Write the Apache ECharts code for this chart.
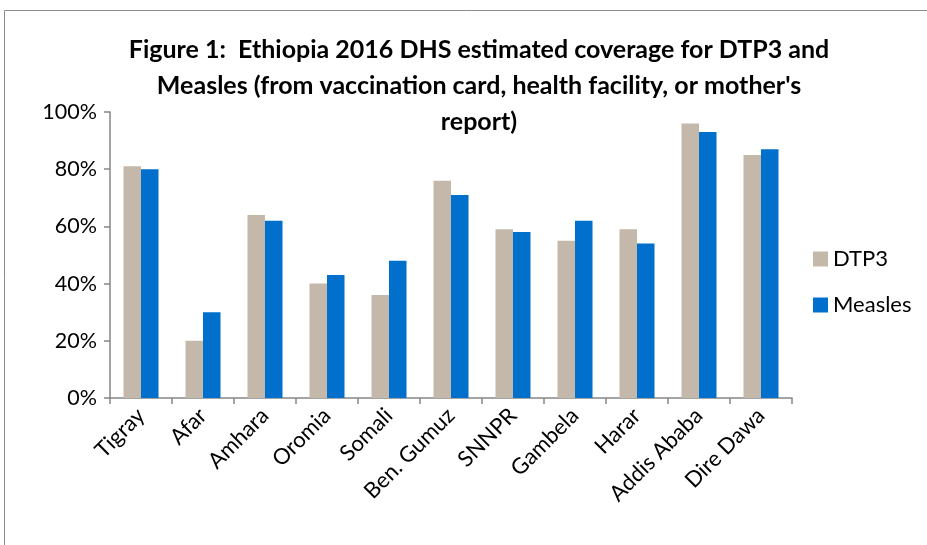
<!DOCTYPE html>
<html>
<head>
<meta charset="utf-8">
<script src="https://cdn.jsdelivr.net/npm/echarts@6/dist/echarts.min.js"></script>
<style>
  html, body { margin: 0; padding: 0; background: #fff; }
  #chart { width: 927px; height: 545px; }
</style>
</head>
<body>
<div id="chart"></div>
<script>
/* data */
var regions = ["Tigray", "Afar", "Amhara", "Oromia", "Somali", "Ben. Gumuz",
  "SNNPR", "Gambela", "Harar", "Addis Ababa", "Dire Dawa"];
var dtp3 = [81, 20, 64, 40, 36, 76, 59, 55, 59, 96, 85];
var measles = [80, 30, 62, 43, 48, 71, 58, 62, 54, 93, 87];
var yTicks = [0, 20, 40, 60, 80, 100];

var font = "Lato, 'Open Sans', sans-serif";

var dom = document.getElementById("chart");
var myChart = echarts.init(dom, null, { renderer: "canvas" });

var option = {
  animation: false,
  backgroundColor: "#fff",
  graphic: [
    {
      // outer chart frame
      type: "rect",
      shape: { x: 4.5, y: 10.5, width: 940, height: 560 },
      style: { fill: "none", stroke: "#8c8c8c", lineWidth: 1 },
      silent: true
    }
  ],
  title: {
    text: "Figure 1:  Ethiopia 2016 DHS estimated coverage for DTP3 and\nMeasles (from vaccination card, health facility, or mother's\nreport)",
    left: 474,
    textAlign: "center",
    top: 27,
    textStyle: {
      fontFamily: font,
      fontWeight: "bold",
      fontSize: 25,
      lineHeight: 36,
      color: "#000"
    }
  },
  legend: {
    orient: "vertical",
    left: 808,
    top: 243,
    itemWidth: 15,
    itemHeight: 15,
    itemGap: 24,
    icon: "rect",
    textStyle: { fontFamily: font, fontSize: 22, color: "#000" },
    data: ["DTP3", "Measles"]
  },
  grid: {
    left: 110,
    top: 112,
    width: 682,
    height: 286,
    containLabel: false
  },
  xAxis: {
    type: "category",
    data: regions,
    axisLine: { lineStyle: { color: "#868686", width: 1.5 } },
    axisTick: { show: true, length: 6, alignWithLabel: false, lineStyle: { color: "#868686", width: 1.5 } },
    axisLabel: {
      interval: 0,
      rotate: 45,
      margin: 14,
      fontFamily: font,
      fontSize: 22,
      color: "#000"
    }
  },
  yAxis: {
    type: "value",
    min: yTicks[0],
    max: yTicks[yTicks.length - 1],
    interval: 20,
    splitLine: { show: false },
    axisLine: { show: true, lineStyle: { color: "#868686", width: 1.5 } },
    axisTick: { show: true, length: 6, lineStyle: { color: "#868686", width: 1.5 } },
    axisLabel: {
      margin: 13,
      fontFamily: font,
      fontSize: 21.5,
      color: "#000",
      formatter: function (v) { return v + "%"; }
    }
  },
  series: [
    {
      name: "DTP3",
      type: "bar",
      data: dtp3,
      barWidth: 17.5,
      barGap: "0%",
      itemStyle: { color: "#C4B8AA" }
    },
    {
      name: "Measles",
      type: "bar",
      data: measles,
      barWidth: 17.5,
      itemStyle: { color: "#0070CC" }
    }
  ]
};

myChart.setOption(option);
window.addEventListener("resize", myChart.resize);
</script>
</body>
</html>
